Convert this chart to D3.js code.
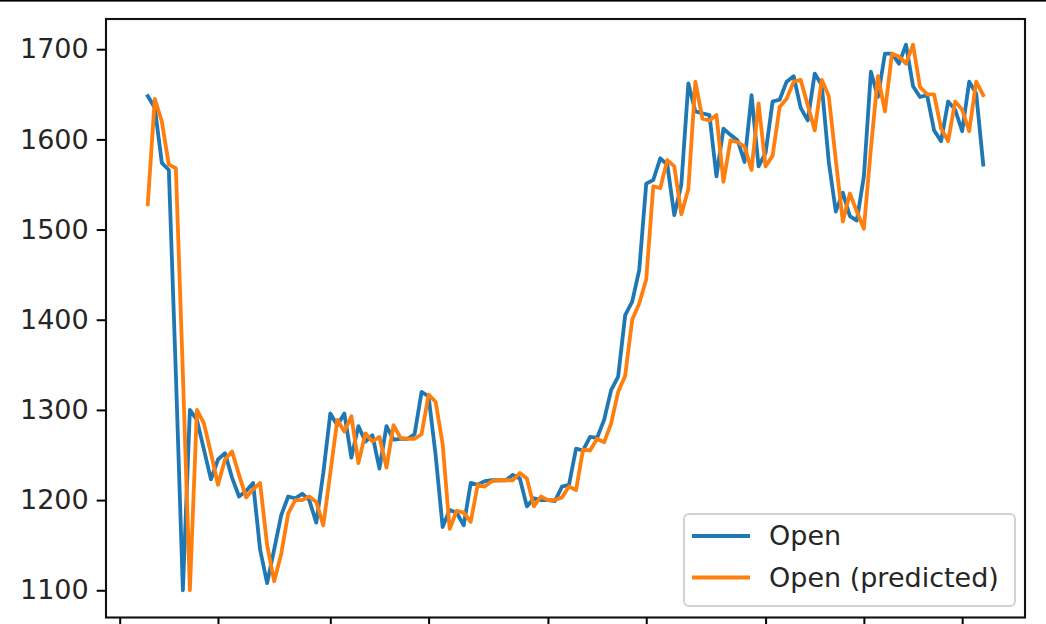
<!DOCTYPE html>
<html><head><meta charset="utf-8">
<script src="https://cdn.jsdelivr.net/npm/d3@7"></script>
<style>html,body{margin:0;padding:0;background:#fff;overflow:hidden}</style>
</head><body>
<svg id="c" width="1046" height="624"></svg>
<script>
// ---- data ----
const startDate = "2018-11-05";           // first daily observation
const openActual = [
1648,1635,1574,1566,1340,1100,1300,1289,1256,1223,
1245,1252,1225,1204,1210,1219,1145,1108,1145,1183,
1204,1202,1207,1200,1175,1230,1296,1283,1296,1247,
1282,1265,1272,1235,1282,1267,1268,1268,1273,1320,
1315,1250,1170,1189,1186,1172,1219,1217,1221,1222,
1222,1222,1228,1224,1193,1202,1200,1200,1199,1215,
1217,1257,1255,1270,1269,1289,1322,1337,1405,1420,
1455,1551,1555,1579,1572,1516,1550,1662,1631,1629,
1627,1559,1612,1605,1599,1575,1649,1570,1585,1642,
1644,1664,1670,1635,1621,1673,1660,1575,1520,1541,
1515,1510,1559,1675,1647,1695,1695,1684,1705,1659,
1647,1649,1610,1598,1642,1633,1609,1664,1651,1572
];
const openPredicted = [
1528,1645,1620,1572,1568,1340,1100,1300,1285,1252,
1217,1245,1254,1228,1203,1212,1219,1150,1110,1140,
1185,1200,1200,1204,1198,1172,1230,1289,1276,1293,
1241,1274,1265,1270,1236,1283,1269,1268,1268,1273,
1317,1309,1262,1168,1188,1186,1176,1217,1215,1221,
1222,1222,1222,1230,1224,1193,1204,1200,1200,1203,
1215,1211,1256,1255,1268,1264,1285,1320,1338,1400,
1418,1445,1548,1546,1577,1570,1517,1545,1664,1623,
1621,1627,1553,1599,1597,1592,1566,1640,1570,1582,
1636,1645,1664,1666,1638,1610,1666,1648,1577,1509,
1540,1520,1501,1590,1670,1631,1695,1692,1684,1705,
1658,1650,1650,1612,1598,1642,1633,1609,1664,1649
];
const seriesNames = ["Open", "Open (predicted)"];
const yTicks = [1100, 1200, 1300, 1400, 1500, 1600, 1700];
const xTicks = ["2018-11-01","2018-11-15","2018-12-01","2018-12-15","2019-01-01",
                "2019-01-15","2019-02-01","2019-02-15","2019-03-01"];

// ---- layout ----
const W = 1046, H = 624;
const L = 106, R = 1025, T = 19, B = 617.5;
const FONT = "DejaVu Sans, Verdana, sans-serif";
const FS = 27;
const colors = ["#1f77b4", "#ff7f0e"];

const svg = d3.select("#c");
svg.append("rect").attr("x",0).attr("y",0).attr("width",W).attr("height",H).attr("fill","#fff");
svg.append("rect").attr("x",0).attr("y",0).attr("width",W).attr("height",1.6).attr("fill","#000");

const t0 = d3.utcParse("%Y-%m-%d")(startDate);
const dates = openActual.map((_, i) => d3.utcDay.offset(t0, i));
const span = dates[dates.length-1] - dates[0];
const x = d3.scaleUtc()
  .domain([new Date(+dates[0] - span*0.05), new Date(+dates[dates.length-1] + span*0.05)])
  .range([L, R]);
const y = d3.scaleLinear().domain([1069.8, 1733.5]).range([B, T]);

// axes
const yAxis = d3.axisLeft(y).tickValues(yTicks).tickSize(9.3).tickPadding(8).tickFormat(d3.format("d"));
const gy = svg.append("g").attr("transform", `translate(${L},0)`).call(yAxis);
gy.select(".domain").remove();
gy.selectAll(".tick line").attr("stroke","#000").attr("stroke-width",2);
gy.selectAll(".tick text").attr("fill","#262626").style("font-family",FONT).style("font-size",FS+"px");

const xt = xTicks.map(d3.utcParse("%Y-%m-%d"));
const xAxis = d3.axisBottom(x).tickValues(xt).tickSize(9.3).tickFormat(() => "");
const gx = svg.append("g").attr("transform", `translate(0,${B})`).call(xAxis);
gx.select(".domain").remove();
gx.selectAll(".tick line").attr("stroke","#000").attr("stroke-width",2);

// lines
const line = d3.line().x((d, i) => x(dates[i])).y(d => y(d));
[openActual, openPredicted].forEach((s, k) => {
  svg.append("path").datum(s).attr("d", line)
    .attr("fill","none").attr("stroke",colors[k]).attr("stroke-width",3.8)
    .attr("stroke-linejoin","round").attr("stroke-linecap","square");
});

// spines
svg.append("rect").attr("x",L).attr("y",T).attr("width",R-L).attr("height",B-T)
  .attr("fill","none").attr("stroke","#111").attr("stroke-width",2.1);

// legend
const lg = svg.append("g");
lg.append("rect").attr("x",684).attr("y",514).attr("width",331).attr("height",92).attr("rx",5)
  .attr("fill","#fff").attr("fill-opacity",0.8).attr("stroke","#d2d2d2").attr("stroke-width",2);
seriesNames.forEach((name, k) => {
  const yy = 536 + k*41.5;
  lg.append("line").attr("x1",692).attr("x2",750).attr("y1",yy).attr("y2",yy)
    .attr("stroke",colors[k]).attr("stroke-width",3.8);
  lg.append("text").attr("x",769).attr("y",yy).attr("dy","0.35em")
    .attr("fill","#262626").style("font-family",FONT).style("font-size",FS+"px").text(name);
});
</script>
</body></html>
